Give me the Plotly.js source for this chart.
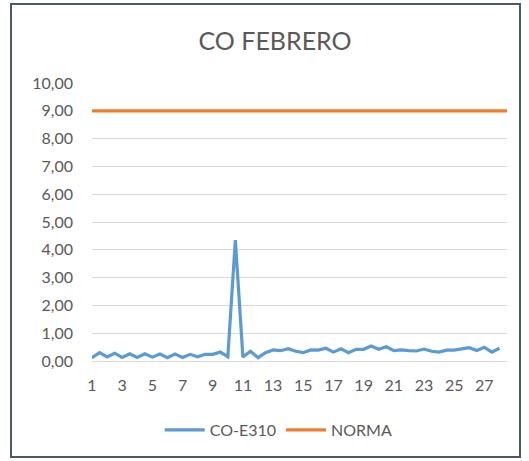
<!DOCTYPE html>
<html>
<head>
<meta charset="utf-8">
<script src="https://cdn.plot.ly/plotly-3.0.1.min.js"></script>
<style>
  html, body { margin: 0; padding: 0; background: #ffffff; }
  #wrap { position: relative; width: 529px; height: 461px; overflow: hidden; }
  #chart { position: absolute; left: 0; top: 0; width: 529px; height: 461px; }
  #frame { position: absolute; left: 10px; top: 3px; width: 511px; height: 455px;
           border: 2px solid #4a5868; pointer-events: none; box-sizing: border-box; }
</style>
</head>
<body>
<div id="wrap">
  <div id="chart"></div>
  <div id="frame"></div>
</div>
<script>
// Half-day sample positions (day number)
const coX = [1,1.5,2,2.5,3,3.5,4,4.5,5,5.5,6,6.5,7,7.5,8,8.5,9,9.5,10,10.5,
             11,11.5,12,12.5,13,13.5,14,14.5,15,15.5,16,16.5,17,17.5,18,18.5,19,19.5,20,20.5,
             21,21.5,22,22.5,23,23.5,24,24.5,25,25.5,26,26.5,27,27.5,28];
// CO-E310 measured values
const coE310 = [0.12,0.30,0.15,0.28,0.13,0.26,0.13,0.26,0.14,0.25,
                0.12,0.25,0.13,0.24,0.15,0.24,0.24,0.32,0.15,4.35,
                0.14,0.35,0.12,0.30,0.40,0.37,0.44,0.35,0.30,0.40,
                0.39,0.46,0.32,0.44,0.30,0.42,0.42,0.54,0.42,0.51,
                0.37,0.40,0.37,0.36,0.43,0.35,0.32,0.39,0.39,0.44,
                0.48,0.38,0.49,0.32,0.46];
// NORMA limit
const normaX = [1, 28.5];
const norma = [9.00, 9.00];
// Axis tick labels
const xTickVals = [1,3,5,7,9,11,13,15,17,19,21,23,25,27];
const xTickText = ["1","3","5","7","9","11","13","15","17","19","21","23","25","27"];
const yTickVals = [0,1,2,3,4,5,6,7,8,9,10];

const FONT = 'Lato, "Liberation Sans", sans-serif';
const GREY = '#595959';

const traces = [
  { x: coX, y: coE310, name: 'CO-E310', type: 'scatter', mode: 'lines',
    line: { color: '#5b9bd5', width: 3.2 } },
  { x: normaX, y: norma, name: 'NORMA', type: 'scatter', mode: 'lines',
    line: { color: '#ed7d31', width: 3.2 } }
];

const layout = {
  width: 529, height: 461,
  margin: { l: 92, r: 22, t: 83, b: 100 },
  paper_bgcolor: '#ffffff', plot_bgcolor: '#ffffff',
  separators: ',.',
  font: { family: FONT, color: GREY, size: 16 },
  title: { text: 'CO FEBRERO', font: { family: FONT, size: 25, color: GREY },
           x: 0.52, xanchor: 'center', y: 0.91, yanchor: 'middle', yref: 'container' },
  xaxis: { range: [1, 28.5], tickvals: xTickVals, ticktext: xTickText,
           showgrid: false, zeroline: false, showline: true, linecolor: '#d9d9d9', linewidth: 1,
           ticks: '', ticklabelstandoff: 10, tickfont: { size: 16, color: GREY } },
  yaxis: { range: [0, 10], tickvals: yTickVals, tickformat: '.2f',
           showgrid: true, gridcolor: '#d9d9d9', gridwidth: 1, zeroline: false,
           showline: false, ticks: '', ticklabelstandoff: 18,
           tickfont: { size: 16, color: GREY } },
  showlegend: true,
  legend: { orientation: 'h', x: 0.45, xanchor: 'center', y: -0.248, yanchor: 'middle',
            font: { size: 16, color: GREY }, bgcolor: 'rgba(0,0,0,0)', itemwidth: 40 }
};

Plotly.newPlot('chart', traces, layout, { displayModeBar: false, staticPlot: true });
</script>
</body>
</html>
